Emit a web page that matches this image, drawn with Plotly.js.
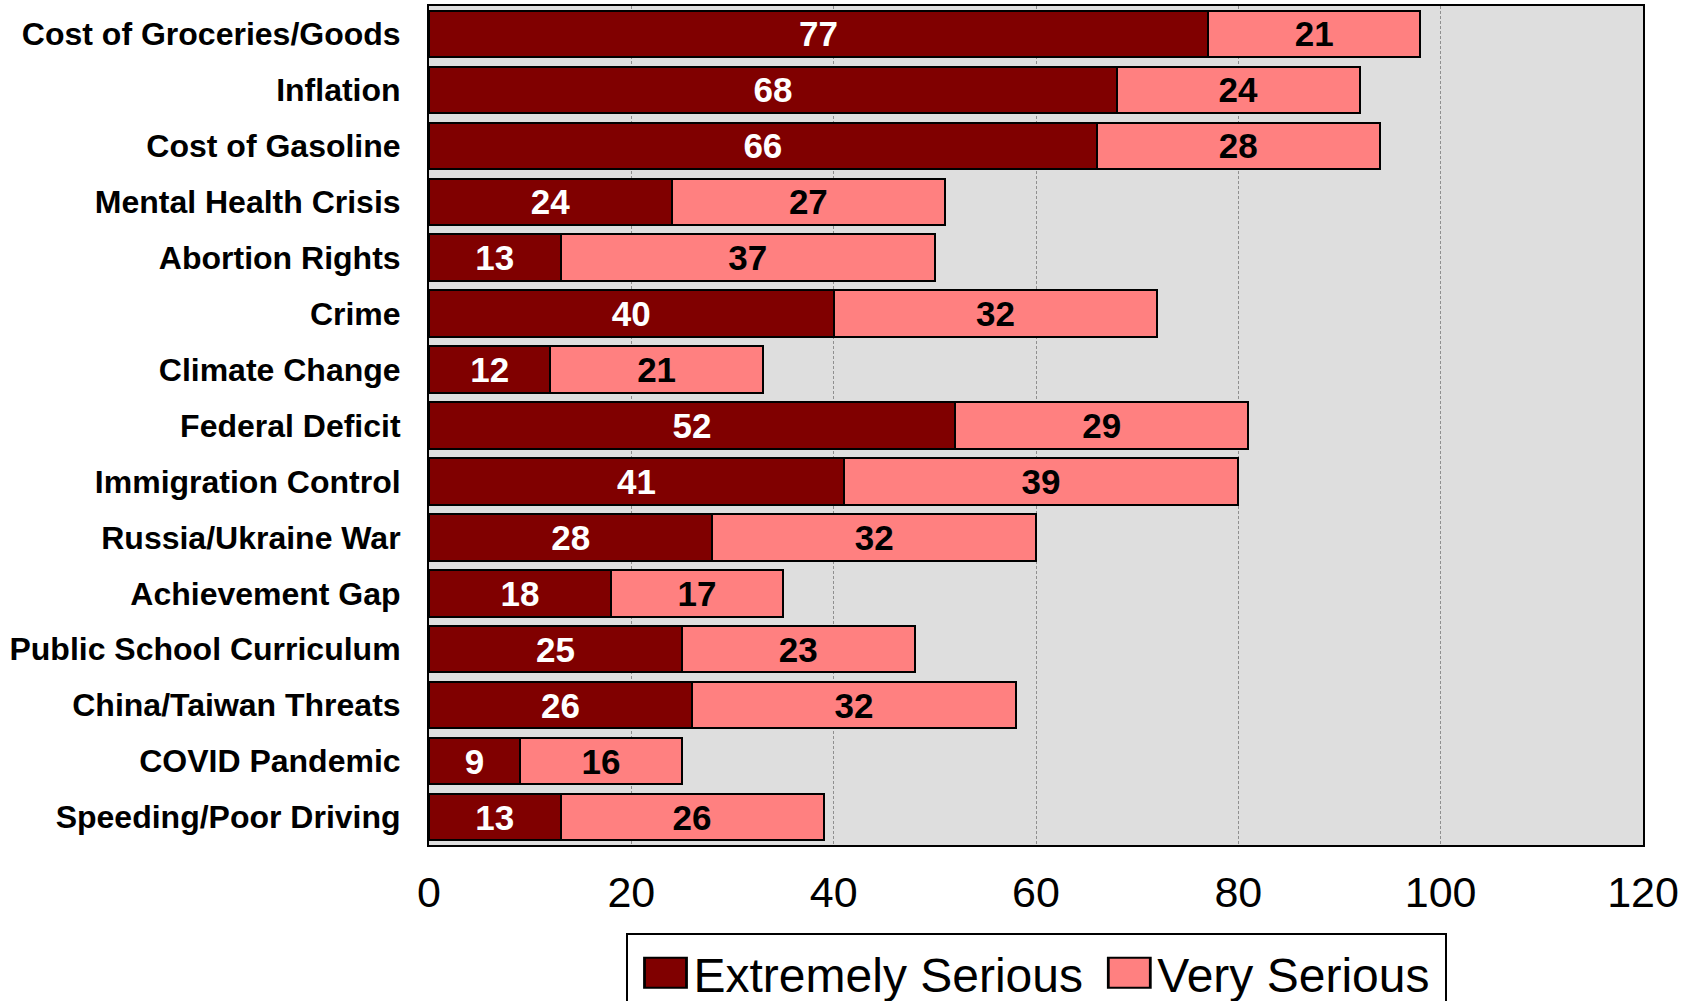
<!DOCTYPE html>
<html>
<head>
<meta charset="utf-8">
<script src="https://cdn.plot.ly/plotly-3.0.1.min.js"></script>
<style>
html,body{margin:0;padding:0;background:#fff;}
#chart{width:1702px;height:1001px;}
</style>
</head>
<body>
<div id="chart"></div>
<script>
const categories = [
  "Cost of Groceries/Goods",
  "Inflation",
  "Cost of Gasoline",
  "Mental Health Crisis",
  "Abortion Rights",
  "Crime",
  "Climate Change",
  "Federal Deficit",
  "Immigration Control",
  "Russia/Ukraine War",
  "Achievement Gap",
  "Public School Curriculum",
  "China/Taiwan Threats",
  "COVID Pandemic",
  "Speeding/Poor Driving"
];
const extremelySerious = [77, 68, 66, 24, 13, 40, 12, 52, 41, 28, 18, 25, 26, 9, 13];
const verySerious = [21, 24, 28, 27, 37, 32, 21, 29, 39, 32, 17, 23, 32, 16, 26];
const xTicks = [0, 20, 40, 60, 80, 100, 120];
const seriesNames = ["Extremely Serious", "Very Serious"];

const FONT = "Liberation Sans, Arial, sans-serif";

const traces = [
  {
    type: "bar", orientation: "h", name: seriesNames[0] + "\u00A0",
    y: categories, x: extremelySerious,
    text: extremelySerious.map(String),
    textposition: "inside", insidetextanchor: "middle", constraintext: "none",
    textfont: {family: FONT, size: 35, color: "#ffffff", weight: "bold"},
    marker: {color: "#800000", line: {color: "#000000", width: 2}},
    hoverinfo: "skip"
  },
  {
    type: "bar", orientation: "h", name: seriesNames[1],
    y: categories, x: verySerious,
    text: verySerious.map(String),
    textposition: "inside", insidetextanchor: "middle", constraintext: "none",
    textfont: {family: FONT, size: 35, color: "#000000", weight: "bold"},
    marker: {color: "#FF8080", line: {color: "#000000", width: 2}},
    hoverinfo: "skip"
  }
];

const layout = {
  width: 1702, height: 1001,
  margin: {l: 429, r: 59, t: 6, b: 156, pad: 0, autoexpand: false},
  paper_bgcolor: "#ffffff",
  plot_bgcolor: "#DEDEDE",
  barmode: "stack",
  bargap: 0.17,
  showlegend: true,
  font: {family: FONT, color: "#000000"},
  xaxis: {
    range: [0, 120], tickvals: xTicks, ticktext: xTicks.map(String),
    showgrid: true, gridcolor: "#8f8f8f", griddash: "3px,2px", gridwidth: 1,
    zeroline: false, showline: true, mirror: true, linecolor: "#000000", linewidth: 2,
    ticks: "", ticklabelstandoff: 8, automargin: false,
    tickfont: {family: FONT, size: 43, color: "#000000"}
  },
  yaxis: {
    autorange: "reversed", type: "category",
    showgrid: false, zeroline: false, showline: true, mirror: true,
    linecolor: "#000000", linewidth: 2, automargin: false,
    ticks: "", ticklabelstandoff: 20,
    tickfont: {family: FONT, size: 32, color: "#000000", weight: "bold"}
  },
  legend: {
    orientation: "h", x: 0.5, xanchor: "center", y: -0.105, yanchor: "top",
    bordercolor: "#000000", borderwidth: 2, bgcolor: "#ffffff",
    font: {family: FONT, size: 48, color: "#000000"},
    itemwidth: 46, traceorder: "normal"
  }
};

Plotly.newPlot("chart", traces, layout, {displayModeBar: false, staticPlot: true}).then(function(gd){
  gd.querySelectorAll(".legend .legendpoints path").forEach(function(p){
    const t = p.getAttribute("transform") || "";
    p.setAttribute("transform", t + " scale(3.5,2.5)");
    p.style.strokeWidth = "0.8px";
  });
  const bg = gd.querySelector(".legend rect.bg");
  if (bg) {
    const x = parseFloat(bg.getAttribute("x") || "0");
    const w = parseFloat(bg.getAttribute("width") || "0");
    bg.setAttribute("x", x - 10);
    bg.setAttribute("width", w + 20);
  }
});
</script>
</body>
</html>
